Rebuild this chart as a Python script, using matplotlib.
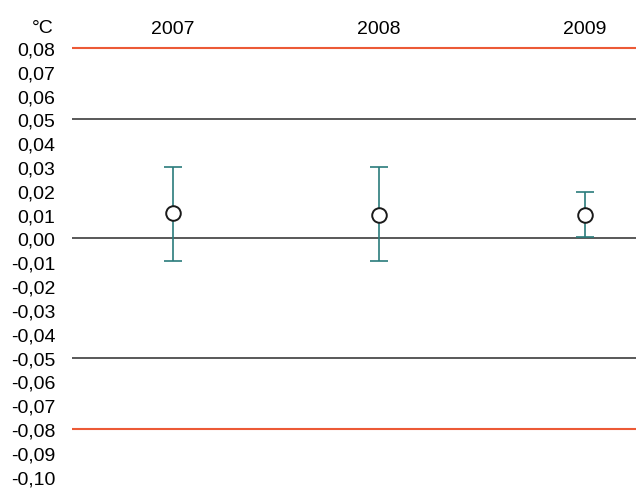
import matplotlib
matplotlib.use("Agg")
import matplotlib.pyplot as plt

years = ["2007", "2008", "2009"]
means = [0.0105, 0.0100, 0.0100]
upper = [0.0300, 0.0300, 0.0195]
lower = [-0.0095, -0.0095, 0.0005]

black_lines = [0.05, 0.0, -0.05]
red_lines = [0.08, -0.08]
yticks = [round(0.08 - 0.01 * i, 2) for i in range(19)]

plt.rcParams['font.family'] = ['Liberation Sans', 'DejaVu Sans']

fig = plt.figure(figsize=(6.36, 4.89), dpi=100)
ax = fig.add_axes([72 / 636, 0, 564 / 636, 1])

x = list(range(len(years)))
for v in black_lines:
    ax.axhline(v, color='#2b2b2b', lw=1.1, zorder=1)
for v in red_lines:
    ax.axhline(v, color='#ec5a36', lw=1.5, zorder=1)

yerr = [[m - l for m, l in zip(means, lower)], [u - m for m, u in zip(means, upper)]]
ax.errorbar(x, means, yerr=yerr, fmt='none', ecolor='#2a7c7c', elinewidth=1.2,
            capsize=6.5, capthick=1.2, zorder=2)
ax.plot(x, means, 'o', ms=10.5, mfc='white', mec='#1a1a1a', mew=1.4, zorder=3)

ax.set_xlim(-0.49, 2.25)
ax.set_ylim(-0.1047, 0.1005)
for s in ax.spines.values():
    s.set_visible(False)
ax.set_xticks([])
ax.set_yticks(yticks)
ax.set_yticklabels([f"{v:.2f}".replace('.', ',') for v in yticks], fontsize=14)
ax.tick_params(axis='y', length=0, pad=12)

for xi, yr in zip(x, years):
    ax.text(xi, 0.0880, yr, ha='center', va='center', fontsize=14)
ax.text(-0.63, 0.0885, "°C", ha='center', va='center', fontsize=14)

fig.savefig("out.png", dpi=100)
